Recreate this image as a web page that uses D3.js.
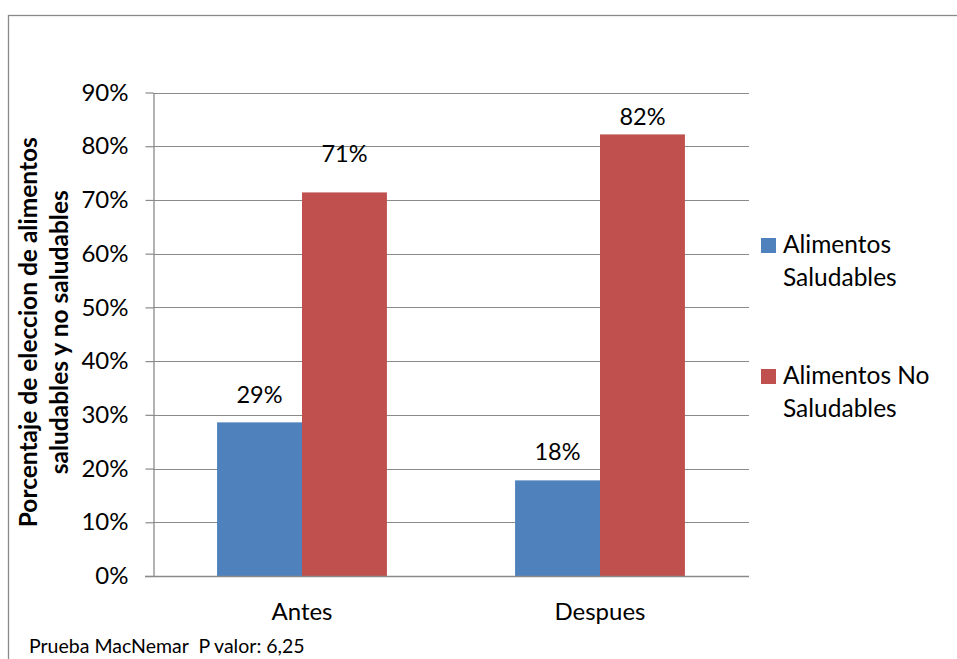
<!DOCTYPE html>
<html>
<head>
<meta charset="utf-8">
<script src="https://cdn.jsdelivr.net/npm/d3@7/dist/d3.min.js"></script>
<style>
  html, body { margin: 0; padding: 0; background: #ffffff; }
  svg { display: block; }
  text { font-family: Lato, "Open Sans", sans-serif; fill: #000; }
</style>
</head>
<body>
<svg id="chart" width="957" height="659"></svg>
<script>
// Categories, series and tick values
const categories = ["Antes", "Despues"];
const seriesNames = ["Alimentos Saludables", "Alimentos No Saludables"];
const saludables = [0.286, 0.178];
const noSaludables = [0.714, 0.822];
const tickValues = [0, 0.1, 0.2, 0.3, 0.4, 0.5, 0.6, 0.7, 0.8, 0.9];
const legendLines = [["Alimentos", "Saludables"], ["Alimentos No", "Saludables"]];
const yTitleLines = ["Porcentaje de eleccion de alimentos", "saludables y no saludables"];
const footnote = "Prueba MacNemar  P valor: 6,25";

const colors = ["#4F81BD", "#C0504D"];
const gridColor = "#8a8a8a";

// Gap between each bar top and the baseline of its value label
const labelLift = [[19, 30], [20, 9]];

const svg = d3.select("#chart");

// Outer chart frame
svg.append("rect")
  .attr("x", 8.5).attr("y", 15.5)
  .attr("width", 1000).attr("height", 700)
  .attr("fill", "none").attr("stroke", gridColor).attr("stroke-width", 1.3);

const plot = { left: 153, right: 749, top: 92.5, bottom: 576 };

const y = d3.scaleLinear().domain([0, 0.9]).range([plot.bottom, plot.top]);
const x0 = d3.scaleBand().domain(categories)
  .range([plot.left, plot.right])
  .paddingInner(0.43).paddingOuter(0.215);
const x1 = d3.scaleBand().domain(seriesNames).range([0, x0.bandwidth()]);

// Horizontal gridlines
svg.append("g").selectAll("line")
  .data(tickValues.filter(d => d > 0))
  .join("line")
  .attr("x1", plot.left).attr("x2", plot.right)
  .attr("y1", d => Math.round(y(d)) + 0.5).attr("y2", d => Math.round(y(d)) + 0.5)
  .attr("stroke", gridColor).attr("stroke-width", 1.2);

// Bars
const rows = categories.map((c, i) => ({ cat: c, vals: [saludables[i], noSaludables[i]] }));
const groups = svg.append("g").selectAll("g")
  .data(rows).join("g")
  .attr("transform", d => `translate(${x0(d.cat)},0)`);

groups.selectAll("rect")
  .data(d => d.vals.map((v, j) => ({ v, j })))
  .join("rect")
  .attr("x", d => x1(seriesNames[d.j]))
  .attr("width", x1.bandwidth())
  .attr("y", d => y(d.v))
  .attr("height", d => y(0) - y(d.v))
  .attr("fill", d => colors[d.j]);

// Value labels
const pct = d3.format(".0%");
groups.each(function (d, i) {
  d3.select(this).selectAll("text.val")
    .data(d.vals.map((v, j) => ({ v, j })))
    .join("text")
    .attr("class", "val")
    .attr("x", e => x1(seriesNames[e.j]) + x1.bandwidth() / 2)
    .attr("y", e => y(e.v) - labelLift[i][e.j])
    .attr("text-anchor", "middle")
    .style("font-size", "23.5px")
    .text(e => pct(e.v));
});

// Y axis
const yAxis = svg.append("g")
  .attr("transform", `translate(${plot.left + 0.5},0)`)
  .call(d3.axisLeft(y).tickValues(tickValues).tickFormat(d3.format(".0%"))
    .tickSize(8).tickSizeOuter(0).tickPadding(17));
yAxis.select(".domain").attr("stroke", gridColor).attr("stroke-width", 1.3);
yAxis.selectAll(".tick line").attr("stroke", gridColor).attr("stroke-width", 1.2);
yAxis.selectAll(".tick text")
  .style("font-size", "24px").style("font-family", "Lato, sans-serif").attr("fill", "#000");

// X axis baseline
svg.append("line")
  .attr("x1", plot.left - 8).attr("x2", plot.right)
  .attr("y1", plot.bottom + 0.5).attr("y2", plot.bottom + 0.5)
  .attr("stroke", gridColor).attr("stroke-width", 1.3);

// Category labels
svg.append("g").selectAll("text")
  .data(categories).join("text")
  .attr("x", d => x0(d) + x0.bandwidth() / 2)
  .attr("y", 620)
  .attr("text-anchor", "middle")
  .style("font-size", "24px")
  .text(d => d);

// Y axis title (two lines, rotated)
const titleX = [37, 68];
svg.append("g").selectAll("text")
  .data(yTitleLines).join("text")
  .attr("transform", (d, i) => `translate(${titleX[i]},${(plot.top + plot.bottom) / 2 - 2}) rotate(-90)`)
  .attr("text-anchor", "middle")
  .style("font-size", "24.5px").style("font-weight", "bold")
  .text(d => d);

// Legend
const legend = svg.append("g").attr("transform", "translate(761,238)");
const legendItems = legend.selectAll("g")
  .data(seriesNames).join("g")
  .attr("transform", (d, i) => `translate(0,${i * 131})`);
legendItems.append("rect")
  .attr("width", 15).attr("height", 15)
  .attr("fill", (d, i) => colors[i]);
legendItems.append("text")
  .attr("x", 22).attr("y", 15)
  .style("font-size", "24.5px")
  .selectAll("tspan")
  .data((d, i) => legendLines[i])
  .join("tspan")
  .attr("x", 22)
  .attr("dy", (d, k) => k === 0 ? 0 : 32.5)
  .text(d => d);

// Footnote
svg.append("text")
  .attr("x", 29).attr("y", 653)
  .style("font-size", "19.5px")
  .style("white-space", "pre")
  .text(footnote);
</script>
</body>
</html>
